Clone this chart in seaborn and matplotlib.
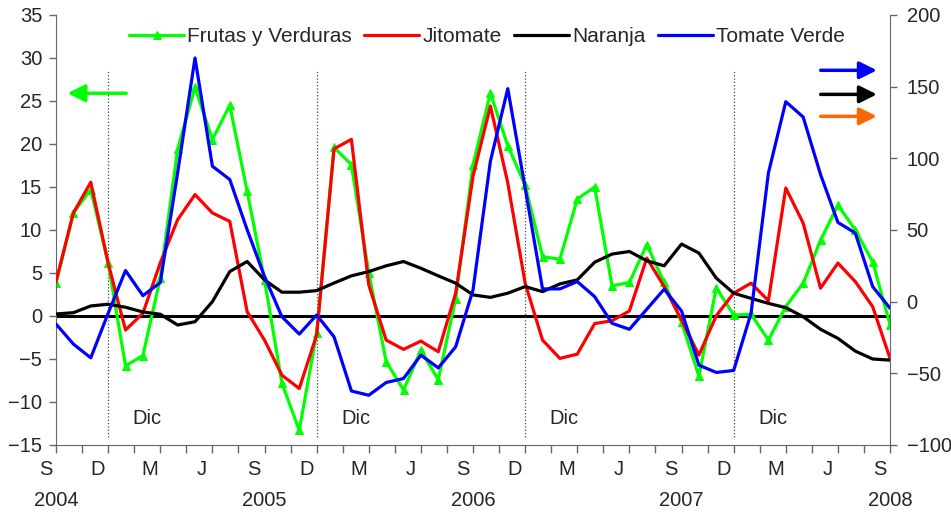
import numpy as np
import pandas as pd
import matplotlib
matplotlib.use('Agg')
import matplotlib.pyplot as plt
import seaborn as sns

sns.set_style('white')
plt.rcParams['font.family'] = ['Liberation Sans', 'DejaVu Sans']

# meses: sep 2004 .. sep 2008
meses = np.arange(49)
etiquetas_mes = ['S', 'D', 'M', 'J'] * 4 + ['S']
anios = ['2004', '2005', '2006', '2007', '2008']

# eje izquierdo
frutas = [3.8, 12.0, 14.7, 6.2, -5.8, -4.6, 4.4, 19.4, 26.6, 20.5, 24.5, 14.5, 4.2,
          -7.8, -13.3, -2.0, 19.6, 17.6, 5.0, -5.3, -8.6, -4.0, -7.4, 2.0, 17.6,
          25.9, 19.8, 15.2, 6.9, 6.6, 13.6, 15.0, 3.5, 3.9, 8.3, 3.9, -0.7, -7.0,
          3.3, 0.1, 0.2, -2.8, 1.1, 3.8, 8.8, 12.9, 10.0, 6.3, -1.0]
# eje derecho
jitomate = [14, 61.9, 83.3, 26.9, -19.8, -8.1, 27, 57.2, 74.7, 61.9, 56, -7, -26.8,
            -51.3, -60.6, -23.3, 106.6, 113.2, 11.7, -26.8, -33.3, -27.5, -35, 5.9,
            87.5, 136.5, 82.8, 12.9, -26.8, -39.6, -36.6, -15.3, -13.3, -6.5, 30.4,
            10.5, -12.8, -37.3, -9.8, 5.9, 12.9, 0.7, 79.3, 54.8, 9.4, 26.9, 14,
            -3.5, -39.6]
naranja = [-8.6, -7.7, -3.0, -1.8, -3.9, -7.2, -8.8, -16.3, -14, 0, 21, 28, 15.2,
           6.6, 6.6, 7.7, 13, 18, 21, 25, 28, 23.3, 18, 12.9, 4.7, 3.0, 5.9, 10.5,
           7, 12.4, 15.2, 27.5, 33.2, 35, 28.5, 25, 40.2, 33.9, 16.4, 5.9, 2.3,
           -1.2, -4.2, -10.5, -19.3, -25.6, -34.5, -40, -40.8]
tomate_verde = [-15.6, -29.6, -39.2, -8.1, 21.7, 4.2, 13.3, 90, 170, 94.5, 85.2,
                50.2, 17.5, -10.5, -22.6, -9.3, -24.5, -62.3, -65.3, -56.4, -53.6,
                -37.3, -46.2, -31.5, 8.2, 98, 148.6, 79.3, 8.9, 8.9, 14, 3.5, -15.1,
                -19.3, -5.3, 8.7, -6.5, -44.3, -49.4, -48, -8.1, 89.8, 139.5, 128.8,
                88.7, 55.3, 47.9, 10.5, -4.6]

df = pd.DataFrame({'mes': meses, 'Frutas y Verduras': frutas, 'Jitomate': jitomate,
                   'Naranja': naranja, 'Tomate Verde': tomate_verde})

fig, ax = plt.subplots(figsize=(9.51, 5.16), dpi=100)
fig.subplots_adjust(left=0.0589, right=0.9359, top=0.971, bottom=0.1376)
ax2 = ax.twinx()

ax.axhline(0, color='black', lw=2.2, zorder=1)
ax.vlines([3, 15, 27, 39], -14.1, 28.6, colors='#444444', linestyles=':', lw=0.9)

sns.lineplot(data=df, x='mes', y='Frutas y Verduras', ax=ax, color='#00ff00', lw=2.3,
             marker='^', markersize=6, markeredgecolor='#00ff00', label='Frutas y Verduras')
sns.lineplot(data=df, x='mes', y='Jitomate', ax=ax2, color='#ff0000', lw=2.3, label='Jitomate')
sns.lineplot(data=df, x='mes', y='Naranja', ax=ax2, color='black', lw=2.3, label='Naranja')
sns.lineplot(data=df, x='mes', y='Tomate Verde', ax=ax2, color='#0000ff', lw=2.3, label='Tomate Verde')

ax.set_yticks(range(-15, 36, 5))
ax2.set_yticks(range(-100, 201, 50))
ax.set_xticks([])
ax.set_xticks(np.arange(0, 48.01, 1.5), minor=True)
ax.set_xlim(0, 48)
ax.set_ylim(-15, 35)
ax2.set_ylim(-100, 200)
ax.set_xlabel('')
ax.set_ylabel('')
ax2.set_ylabel('')

gris = '#666666'
for s in ['top', 'right']:
    ax.spines[s].set_visible(False)
for s in ['top', 'left', 'bottom']:
    ax2.spines[s].set_visible(False)
ax.spines['left'].set_color(gris)
ax.spines['bottom'].set_color(gris)
ax2.spines['right'].set_color(gris)

ax.tick_params(axis='y', direction='out', length=5, width=1, color=gris, pad=5, labelsize=14.5, left=True)
ax2.tick_params(axis='y', direction='out', length=5, width=1, color=gris, pad=7, labelsize=14.5, right=True)
ax.tick_params(axis='x', which='minor', direction='out', length=6, width=1, color=gris, bottom=True)

# etiquetas de mes (un poco a la izquierda del mes, como en el original) y de año
xt = ax.get_xaxis_transform()
for k, m in enumerate(etiquetas_mes):
    ax.text(3 * k - 0.6, -0.058, m, transform=xt, ha='center', va='center',
            fontsize=14.5, clip_on=False)
for k, a in enumerate(anios):
    ax.text(k * 12, -0.128, a, transform=xt, ha='center', va='center',
            fontsize=14.5, clip_on=False)

for d in [3, 15, 27, 39]:
    ax.text(d + 2.25, -11.9, 'Dic', ha='center', va='center', fontsize=14.5)

# flechas de eje
ax.annotate('', xy=(0.5, 25.9), xytext=(4.2, 25.9),
            arrowprops=dict(arrowstyle='-|>', color='#00ff00', lw=2.5, mutation_scale=26))
for yv, c in [(161.4, '#0000ff'), (144.6, 'black'), (129.3, '#ff6600')]:
    ax2.annotate('', xy=(47.4, yv), xytext=(43.85, yv),
                 arrowprops=dict(arrowstyle='-|>', color=c, lw=2.5, mutation_scale=26))

h1, l1 = ax.get_legend_handles_labels()
h2, l2 = ax2.get_legend_handles_labels()
ax.get_legend().remove()
ax2.get_legend().remove()
ax2.legend(h1 + h2, l1 + l2, loc='center', bbox_to_anchor=(0.517, 0.949), ncol=4,
           frameon=False, fontsize=15, handlelength=2.64, handletextpad=0.15,
           columnspacing=0.6, borderpad=0)

fig.savefig('out.png', dpi=100)
